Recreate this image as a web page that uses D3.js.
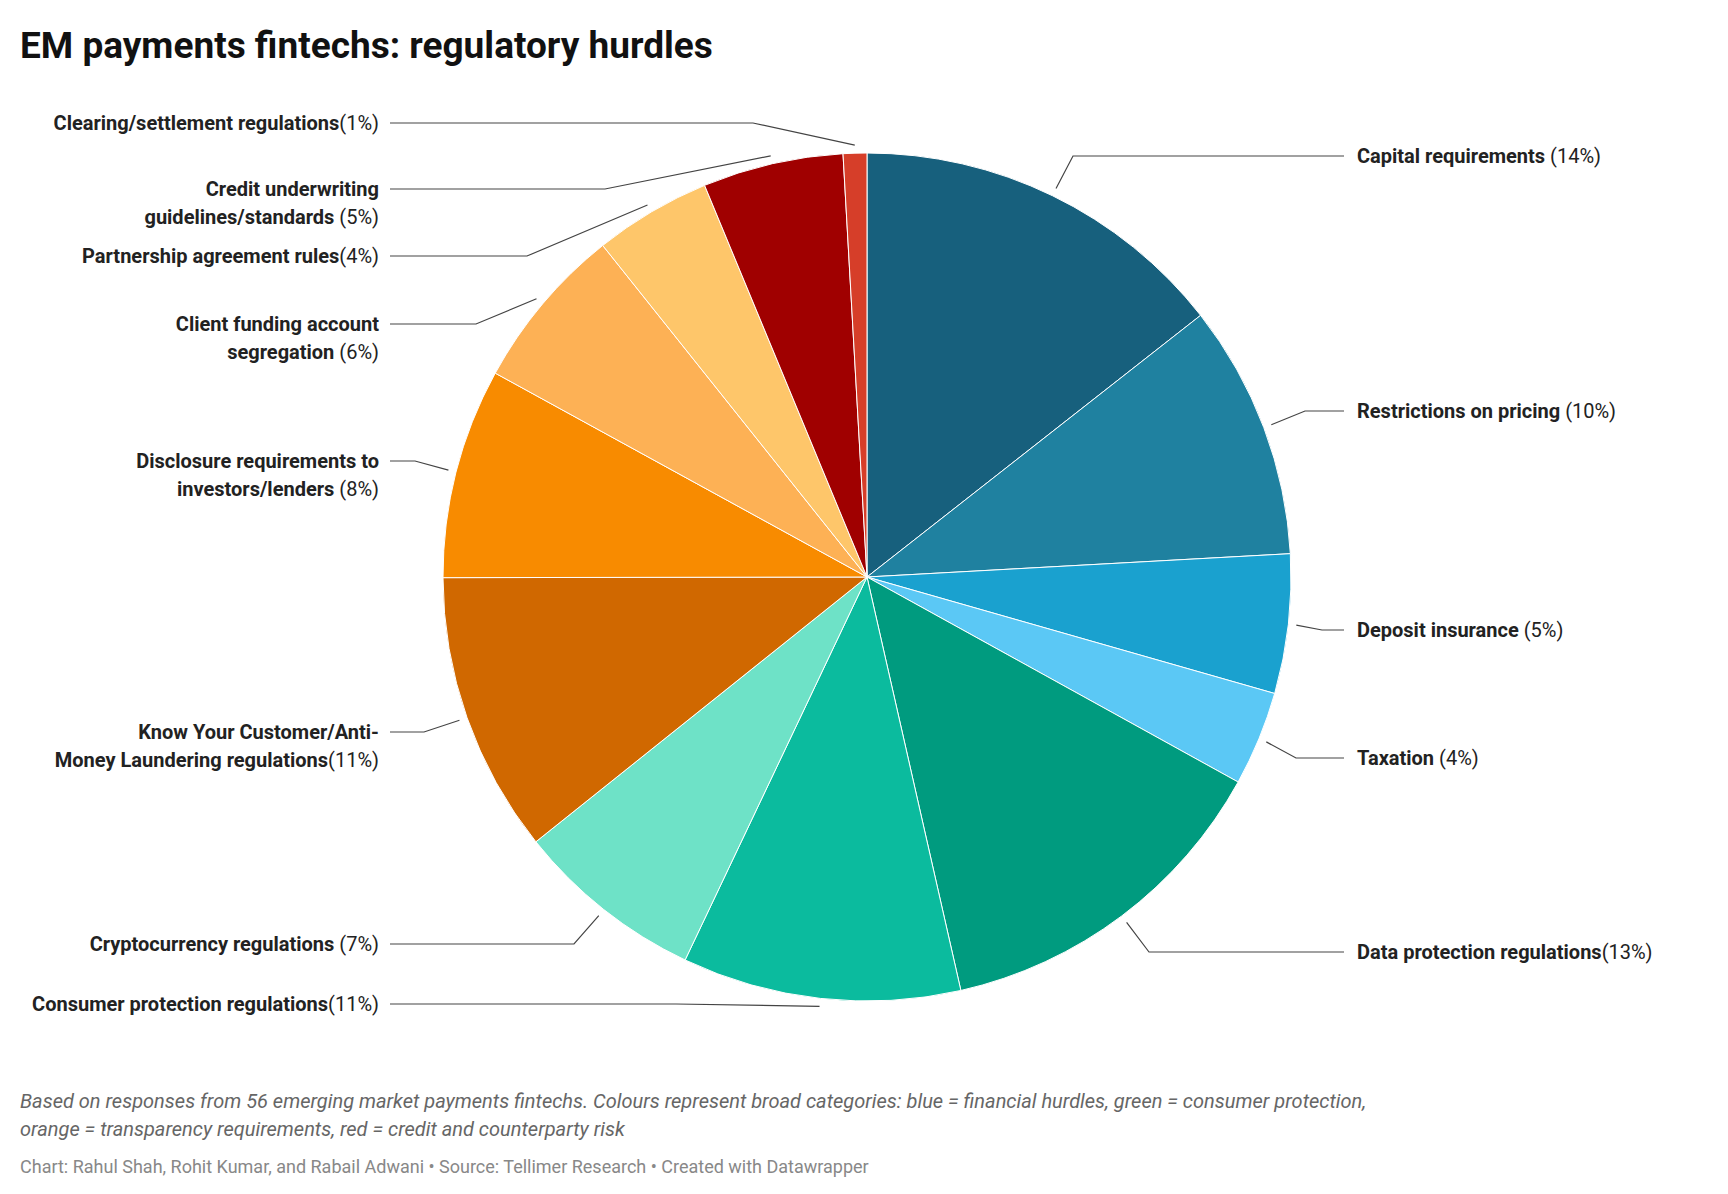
<!DOCTYPE html>
<html><head><meta charset="utf-8">
<script src="https://cdn.jsdelivr.net/npm/d3@7"></script>
<style>body{margin:0;background:#fff;font-family:Roboto,sans-serif}</style>
</head><body><svg id="c" width="1728" height="1194"></svg>
<script>
const categories=["Capital requirements","Restrictions on pricing","Deposit insurance","Taxation","Data protection regulations","Consumer protection regulations","Cryptocurrency regulations","Know Your Customer/Anti-Money Laundering regulations","Disclosure requirements to investors/lenders","Client funding account segregation","Partnership agreement rules","Credit underwriting guidelines/standards","Clearing/settlement regulations"];
const values=[14.4,9.7,5.3,3.6,13.4,10.6,7.2,10.7,8.0,6.3,4.45,5.35,0.9];
const pctLabels=["14%","10%","5%","4%","13%","11%","7%","11%","8%","6%","4%","5%","1%"];
const colors=["#17607d","#1f81a0","#1aa1cf","#5bc8f5","#009b7f","#0bbb9e","#6ee2c7","#d06800","#f88b00","#fdb155","#fec66a","#a00000","#d63e29"];
// label layout: [side, labelY, elbowX, lines(bold parts; last line gets pct)]
const layout=[
 ["r",156,1073,[["Capital requirements"," (14%)"]]],
 ["r",411,1305,[["Restrictions on pricing"," (10%)"]]],
 ["r",630,1322,[["Deposit insurance"," (5%)"]]],
 ["r",758,1296,[["Taxation"," (4%)"]]],
 ["r",952,1149,[["Data protection regulations",""],["","(13%)"]]],
 ["l",1004,676,[["Consumer protection regulations",""],["","(11%)"]]],
 ["l",944,574,[["Cryptocurrency regulations"," (7%)"]]],
 ["l",732,424,[["Know Your Customer/Anti-",""],["Money Laundering regulations",""],["","(11%)"]]],
 ["l",461,415,[["Disclosure requirements to",""],["investors/lenders"," (8%)"]]],
 ["l",324,476,[["Client funding account",""],["segregation"," (6%)"]]],
 ["l",256,527,[["Partnership agreement rules",""],["","(4%)"]]],
 ["l",189,605,[["Credit underwriting",""],["guidelines/standards"," (5%)"]]],
 ["l",123,753,[["Clearing/settlement regulations",""],["","(1%)"]]]
];
const svg=d3.select("#c");
svg.append("text").attr("x",20).attr("y",58).attr("font-size",37).attr("font-weight",700).attr("fill","#111").text("EM payments fintechs: regulatory hurdles");
const cx=867,cy=577,r=424;
const pie=d3.pie().sort(null).value(d=>d)(values);
const arc=d3.arc().innerRadius(0).outerRadius(r);
const g=svg.append("g").attr("transform",`translate(${cx},${cy})`);
g.selectAll("path").data(pie).join("path").attr("d",arc).attr("fill",(d,i)=>colors[i]).attr("stroke","#fff").attr("stroke-width",1);
pie.forEach((d,i)=>{
 const [side,ly,ex,lines]=layout[i];
 const a=(d.startAngle+d.endAngle)/2, rr=r+8;
 const px=cx+rr*Math.sin(a), py=cy-rr*Math.cos(a);
 const lx=side==="r"?1344:390;
 svg.append("path").attr("d",d3.line()([[px,py],[ex,ly],[lx,ly]])).attr("fill","none").attr("stroke","#444").attr("stroke-width",1.2);
 const t=svg.append("text").attr("font-size",20).attr("fill","#222").attr("text-anchor",side==="r"?"start":"end");
 lines.forEach((ln,k)=>{
  const ts=t.append("tspan").attr("x",side==="r"?1357:379).attr("y",ly+7+k*28).attr("font-weight",700).text(ln[0]);
  t.append("tspan").attr("font-weight",400).text(ln[1]);
 });
});
const foot=svg.append("text").attr("font-size",20).attr("font-style","italic").attr("fill","#666");
foot.append("tspan").attr("x",20).attr("y",1108).text("Based on responses from 56 emerging market payments fintechs. Colours represent broad categories: blue = financial hurdles, green = consumer protection,");
foot.append("tspan").attr("x",20).attr("y",1136).text("orange = transparency requirements, red = credit and counterparty risk");
svg.append("text").attr("x",20).attr("y",1173).attr("font-size",18).attr("fill","#888").text("Chart: Rahul Shah, Rohit Kumar, and Rabail Adwani • Source: Tellimer Research • Created with Datawrapper");
</script></body></html>
